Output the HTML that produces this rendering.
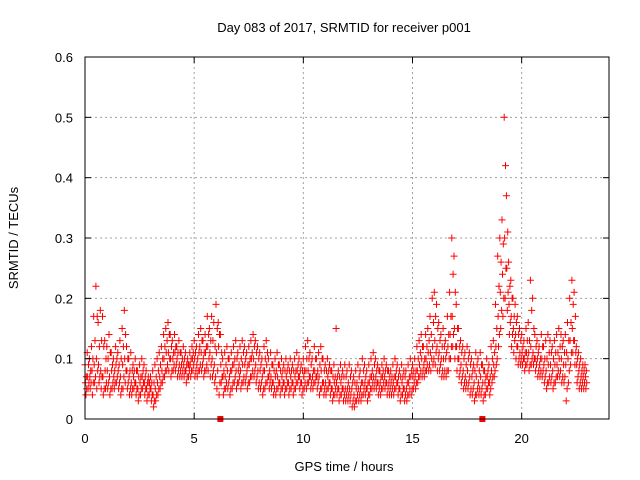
<!DOCTYPE html>
<html><head><meta charset="utf-8"><style>
body{margin:0;background:#fff}
svg{display:block;font-family:"Liberation Sans",sans-serif}
</style></head><body>
<svg width="640" height="480" id="chart">
<rect width="640" height="480" fill="#fff"/>
<g id="grid"></g>
<g id="marks"></g>
<g id="axes"></g>
<text x="344" y="32" font-size="13" text-anchor="middle">Day 083 of 2017, SRMTID for receiver p001</text>
<text x="344" y="471" font-size="13" text-anchor="middle">GPS time / hours</text>
<text transform="translate(18,238) rotate(-90)" font-size="13" text-anchor="middle">SRMTID / TECUs</text>
</svg>
<script>
const xTicks=[0,5,10,15,20];
const yTicks=[0,0.1,0.2,0.3,0.4,0.5,0.6];
const yTickLabels=["0","0.1","0.2","0.3","0.4","0.5","0.6"];
const startHour=0, stepHour=0.1;
const hiVals=[0.09,0.11,0.10,0.12,0.17,0.22,0.16,0.18,0.17,0.13,
0.12,0.14,0.11,0.10,0.12,0.11,0.13,0.15,0.18,0.12,
0.10,0.11,0.09,0.10,0.08,0.09,0.10,0.09,0.08,0.07,
0.07,0.08,0.09,0.10,0.11,0.12,0.14,0.15,0.16,0.14,
0.13,0.14,0.12,0.13,0.11,0.12,0.11,0.10,0.11,0.12,
0.13,0.12,0.14,0.15,0.13,0.14,0.17,0.15,0.17,0.16,
0.19,0.16,0.14,0.10,0.11,0.12,0.10,0.11,0.12,0.13,
0.11,0.12,0.13,0.12,0.11,0.12,0.13,0.14,0.13,0.12,
0.11,0.10,0.12,0.13,0.10,0.11,0.09,0.10,0.11,0.09,
0.10,0.09,0.10,0.09,0.10,0.09,0.10,0.11,0.10,0.09,
0.10,0.12,0.13,0.11,0.10,0.12,0.10,0.11,0.12,0.10,
0.09,0.10,0.09,0.08,0.09,0.15,0.08,0.09,0.08,0.09,
0.08,0.09,0.08,0.07,0.08,0.09,0.08,0.10,0.09,0.08,
0.09,0.10,0.11,0.10,0.09,0.08,0.09,0.10,0.09,0.08,
0.08,0.09,0.10,0.09,0.08,0.09,0.08,0.08,0.09,0.10,
0.09,0.10,0.12,0.13,0.14,0.12,0.14,0.15,0.17,0.20,
0.21,0.19,0.16,0.14,0.15,0.13,0.17,0.21,0.30,0.27,
0.19,0.15,0.13,0.12,0.11,0.12,0.11,0.10,0.09,0.11,
0.10,0.11,0.09,0.08,0.10,0.09,0.12,0.13,0.19,0.27,
0.30,0.33,0.50,0.37,0.26,0.23,0.20,0.19,0.17,0.15,
0.14,0.13,0.15,0.16,0.23,0.20,0.14,0.13,0.12,0.14,
0.12,0.13,0.14,0.13,0.12,0.13,0.14,0.15,0.14,0.13,
0.14,0.16,0.20,0.23,0.21,0.12,0.11,0.10,0.09,0.09];
const upperVals=[0.07,0.09,0.08,0.10,0.13,0.17,0.12,0.13,0.12,0.10,
0.10,0.11,0.09,0.08,0.10,0.09,0.10,0.12,0.14,0.10,
0.08,0.08,0.08,0.08,0.07,0.07,0.08,0.07,0.06,0.06,
0.06,0.06,0.07,0.08,0.09,0.10,0.12,0.13,0.14,0.12,
0.11,0.12,0.11,0.11,0.10,0.10,0.09,0.09,0.10,0.11,
0.11,0.10,0.12,0.13,0.11,0.12,0.14,0.13,0.13,0.12,
0.15,0.14,0.11,0.08,0.09,0.10,0.08,0.09,0.10,0.10,
0.09,0.10,0.11,0.10,0.09,0.10,0.11,0.12,0.11,0.10,
0.09,0.08,0.10,0.11,0.08,0.09,0.08,0.08,0.09,0.08,
0.08,0.08,0.08,0.08,0.08,0.08,0.08,0.09,0.08,0.08,
0.08,0.10,0.10,0.09,0.08,0.10,0.08,0.09,0.10,0.08,
0.08,0.08,0.08,0.07,0.07,0.07,0.07,0.07,0.07,0.07,
0.06,0.07,0.06,0.06,0.06,0.07,0.06,0.08,0.07,0.06,
0.07,0.08,0.09,0.08,0.08,0.07,0.08,0.08,0.08,0.07,
0.07,0.07,0.08,0.07,0.07,0.07,0.07,0.06,0.07,0.08,
0.08,0.08,0.10,0.11,0.12,0.10,0.12,0.13,0.14,0.16,
0.17,0.15,0.13,0.12,0.12,0.11,0.14,0.17,0.24,0.21,
0.15,0.12,0.11,0.10,0.09,0.10,0.09,0.08,0.08,0.09,
0.08,0.09,0.08,0.07,0.08,0.07,0.10,0.11,0.15,0.22,
0.26,0.29,0.42,0.31,0.22,0.20,0.17,0.16,0.14,0.13,
0.12,0.11,0.13,0.13,0.18,0.15,0.12,0.11,0.10,0.12,
0.10,0.10,0.11,0.11,0.10,0.11,0.11,0.12,0.12,0.11,
0.11,0.13,0.16,0.19,0.17,0.10,0.09,0.08,0.08,0.08];
const midVals=[0.06,0.07,0.07,0.08,0.09,0.10,0.09,0.08,0.07,0.08,
0.08,0.07,0.08,0.07,0.09,0.08,0.07,0.09,0.10,0.08,
0.07,0.06,0.07,0.06,0.05,0.06,0.07,0.06,0.05,0.06,
0.05,0.04,0.05,0.06,0.07,0.08,0.10,0.11,0.11,0.10,
0.10,0.11,0.10,0.09,0.09,0.09,0.08,0.09,0.09,0.10,
0.10,0.09,0.11,0.11,0.10,0.11,0.12,0.11,0.10,0.09,
0.11,0.12,0.09,0.07,0.07,0.08,0.07,0.08,0.09,0.08,
0.08,0.08,0.09,0.09,0.08,0.09,0.10,0.10,0.09,0.08,
0.08,0.07,0.08,0.09,0.07,0.07,0.06,0.07,0.07,0.06,
0.07,0.06,0.07,0.06,0.07,0.06,0.07,0.08,0.07,0.06,
0.07,0.08,0.08,0.07,0.07,0.08,0.07,0.07,0.08,0.06,
0.06,0.07,0.06,0.05,0.06,0.06,0.05,0.06,0.05,0.05,
0.05,0.05,0.05,0.04,0.05,0.05,0.05,0.06,0.06,0.05,
0.06,0.07,0.07,0.07,0.06,0.06,0.07,0.07,0.06,0.06,
0.06,0.06,0.07,0.06,0.05,0.06,0.05,0.05,0.06,0.07,
0.07,0.07,0.08,0.09,0.10,0.09,0.10,0.11,0.11,0.12,
0.13,0.12,0.11,0.10,0.10,0.10,0.12,0.14,0.17,0.15,
0.12,0.10,0.09,0.08,0.07,0.08,0.07,0.07,0.06,0.07,
0.06,0.07,0.06,0.06,0.07,0.06,0.08,0.09,0.12,0.17,
0.21,0.24,0.30,0.25,0.19,0.17,0.15,0.14,0.12,0.11,
0.11,0.10,0.11,0.11,0.12,0.11,0.10,0.10,0.09,0.10,
0.09,0.08,0.09,0.09,0.08,0.09,0.09,0.10,0.10,0.09,
0.09,0.10,0.13,0.15,0.13,0.09,0.08,0.07,0.07,0.07];
const lowerVals=[0.05,0.06,0.06,0.06,0.07,0.08,0.07,0.07,0.05,0.06,
0.06,0.05,0.06,0.06,0.07,0.06,0.05,0.07,0.08,0.06,
0.05,0.05,0.06,0.05,0.04,0.05,0.06,0.05,0.04,0.05,
0.04,0.03,0.04,0.05,0.06,0.07,0.08,0.09,0.10,0.08,
0.09,0.09,0.08,0.08,0.08,0.08,0.07,0.08,0.08,0.09,
0.08,0.08,0.09,0.09,0.08,0.09,0.10,0.09,0.08,0.07,
0.08,0.06,0.07,0.05,0.06,0.06,0.05,0.06,0.07,0.06,
0.07,0.06,0.07,0.07,0.06,0.07,0.08,0.08,0.07,0.06,
0.06,0.05,0.06,0.07,0.06,0.06,0.05,0.05,0.06,0.05,
0.06,0.05,0.06,0.05,0.06,0.05,0.06,0.07,0.06,0.05,
0.06,0.06,0.07,0.06,0.06,0.07,0.06,0.05,0.06,0.05,
0.05,0.06,0.05,0.04,0.05,0.05,0.04,0.05,0.04,0.04,
0.04,0.04,0.03,0.03,0.04,0.04,0.04,0.05,0.05,0.04,
0.05,0.06,0.06,0.06,0.05,0.05,0.06,0.06,0.05,0.05,
0.05,0.05,0.06,0.05,0.04,0.05,0.04,0.04,0.05,0.05,
0.06,0.06,0.07,0.08,0.08,0.08,0.09,0.09,0.10,0.10,
0.11,0.10,0.09,0.08,0.08,0.08,0.10,0.12,0.14,0.12,
0.10,0.08,0.07,0.06,0.06,0.06,0.05,0.05,0.04,0.05,
0.05,0.05,0.04,0.05,0.06,0.05,0.07,0.08,0.10,0.14,
0.18,0.20,0.25,0.21,0.16,0.14,0.13,0.12,0.10,0.10,
0.10,0.09,0.10,0.09,0.10,0.10,0.09,0.08,0.08,0.08,
0.07,0.06,0.07,0.07,0.06,0.07,0.08,0.08,0.07,0.07,
0.05,0.08,0.11,0.13,0.11,0.07,0.06,0.06,0.06,0.06];
const loVals=[0.04,0.05,0.05,0.04,0.06,0.05,0.06,0.05,0.04,0.05,
0.05,0.04,0.05,0.05,0.06,0.05,0.04,0.05,0.06,0.05,
0.04,0.04,0.05,0.04,0.03,0.04,0.05,0.04,0.03,0.04,
0.03,0.02,0.03,0.04,0.05,0.06,0.07,0.08,0.08,0.07,
0.08,0.08,0.07,0.07,0.07,0.07,0.06,0.07,0.07,0.08,
0.07,0.07,0.08,0.08,0.07,0.08,0.08,0.07,0.07,0.06,
0.05,0.04,0.06,0.04,0.05,0.05,0.04,0.05,0.06,0.05,
0.06,0.05,0.06,0.06,0.05,0.06,0.07,0.07,0.06,0.05,
0.05,0.04,0.05,0.06,0.05,0.05,0.04,0.04,0.05,0.04,
0.05,0.04,0.05,0.04,0.05,0.04,0.05,0.06,0.05,0.04,
0.05,0.05,0.06,0.05,0.05,0.06,0.05,0.04,0.05,0.04,
0.04,0.05,0.04,0.03,0.04,0.04,0.03,0.04,0.03,0.03,
0.03,0.03,0.02,0.02,0.03,0.03,0.03,0.04,0.04,0.03,
0.04,0.05,0.05,0.05,0.04,0.04,0.05,0.05,0.04,0.04,
0.04,0.04,0.05,0.04,0.03,0.04,0.03,0.03,0.04,0.04,
0.05,0.05,0.06,0.07,0.07,0.07,0.08,0.08,0.08,0.09,
0.09,0.08,0.08,0.07,0.07,0.07,0.08,0.10,0.12,0.10,
0.08,0.07,0.06,0.05,0.05,0.05,0.04,0.04,0.03,0.04,
0.04,0.04,0.03,0.04,0.05,0.04,0.06,0.07,0.09,0.12,
0.15,0.17,0.20,0.18,0.14,0.12,0.11,0.10,0.09,0.09,
0.09,0.08,0.09,0.08,0.09,0.09,0.08,0.07,0.07,0.07,
0.06,0.05,0.06,0.06,0.05,0.06,0.07,0.07,0.06,0.06,
0.03,0.06,0.09,0.11,0.09,0.06,0.05,0.05,0.05,0.05];
const gapHours=[6.2,18.2];

const NS="http://www.w3.org/2000/svg";
const L=85,R=609,T=57,B=419,XMAX=24,YMAX=0.6;
const xs=h=>L+h*(R-L)/XMAX;
const ys=v=>B-v*(B-T)/YMAX;
function mk(tag,attrs,parent){const e=document.createElementNS(NS,tag);for(const k in attrs)e.setAttribute(k,attrs[k]);parent.appendChild(e);return e;}
const grid=document.getElementById('grid'),axes=document.getElementById('axes'),marks=document.getElementById('marks');
yTicks.forEach((v,i)=>{
  const y=ys(v);
  if(v>0&&v<YMAX){const g=mk('line',{x1:L,x2:R,y1:y,y2:y,stroke:'#a0a0a0','stroke-dasharray':'2,3'},grid);
  
  }
  mk('line',{x1:L,x2:L+6,y1:y,y2:y,stroke:'#000'},axes);
  mk('line',{x1:R,x2:R-6,y1:y,y2:y,stroke:'#000'},axes);
  const t=mk('text',{x:L-12,y:y+5,'font-size':13,'text-anchor':'end'},axes);
  t.textContent=yTickLabels[i];
  
  
});
xTicks.forEach(h=>{
  const x=xs(h);
  if(h>0){const g=mk('line',{x1:x,x2:x,y1:T,y2:B,stroke:'#a0a0a0','stroke-dasharray':'2,3'},grid);
  
  }
  mk('line',{x1:x,x2:x,y1:B,y2:B-6,stroke:'#000'},axes);
  mk('line',{x1:x,x2:x,y1:T,y2:T+6,stroke:'#000'},axes);
  const t=mk('text',{x:x,y:B+24,'font-size':13,'text-anchor':'middle'},axes);
  t.textContent=String(h);
  
  
});
const frame=mk('rect',{x:L,y:T,width:R-L,height:B-T,fill:'none',stroke:'#000'},axes);


let d='';
function addSeries(vals,off){vals.forEach((v,i)=>{const h=startHour+i*stepHour+off;const x=xs(h),y=ys(v);d+=`M${(x-3.5).toFixed(1)} ${y.toFixed(1)}h7M${x.toFixed(1)} ${(y-3.5).toFixed(1)}v7`;});}
addSeries(hiVals,0);addSeries(upperVals,0.06);addSeries(midVals,0.02);addSeries(lowerVals,0.08);addSeries(loVals,0.04);
const p=mk('path',{d:d,stroke:'#ff0000','stroke-width':1,fill:'none'},marks);


gapHours.forEach(h=>{const r=mk('rect',{x:xs(h)-3,y:B-3,width:6,height:6,fill:'#ff0000'},marks);

});
</script>
</body></html>
